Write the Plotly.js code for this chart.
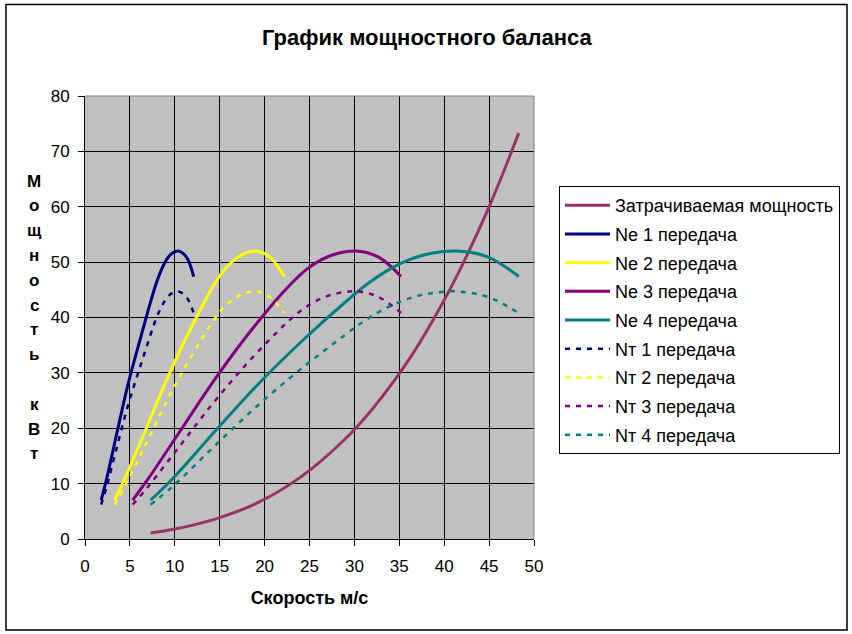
<!DOCTYPE html>
<html>
<head>
<meta charset="utf-8">
<script src="https://cdn.plot.ly/plotly-3.0.1.min.js"></script>
<style>
  html, body { margin: 0; padding: 0; background: #fff; }
  #chart { width: 852px; height: 634px; }
</style>
</head>
<body>
<div id="chart"></div>
<script>
// скорость автомобиля на каждой передаче, м/с
const SPEED_G1 = [1.8, 2.4, 3.6, 4.8, 6.1, 7.3, 7.9, 8.5, 9.1, 9.7, 10.4, 11.3, 12.1];
const SPEED_G2 = [3.3, 4.4, 6.7, 8.9, 11.1, 13.3, 14.4, 15.5, 16.7, 17.8, 19.1, 20.6, 22.2];
const SPEED_G3 = [5.3, 7.0, 10.6, 14.1, 17.6, 21.1, 22.9, 24.6, 26.4, 28.2, 30.3, 32.7, 35.2];
const SPEED_G4 = [7.3, 9.7, 14.5, 19.3, 24.2, 29.0, 31.4, 33.8, 36.2, 38.6, 41.5, 44.9, 48.3];

// мощность двигателя Ne и на колёсах Nт, кВт
const POWER_NE = [7.0, 10.8, 19.5, 28.0, 35.8, 42.8, 46.0, 48.6, 50.5, 51.6, 52.0, 50.9, 47.4];
const POWER_NT = [6.2, 9.4, 16.9, 24.2, 30.9, 36.9, 39.7, 41.9, 43.5, 44.4, 44.7, 43.7, 40.8];

// затрачиваемая мощность (по скорости 4-й передачи)
const POWER_RES = [1.1, 1.7, 3.6, 6.6, 11.4, 18.1, 22.3, 27.2, 32.7, 39.1, 47.8, 59.6, 73.3];

const GEAR_SPEEDS = [SPEED_G1, SPEED_G2, SPEED_G3, SPEED_G4];
const GEAR_COLORS = ['#000080', '#ffff00', '#800080', '#008080'];
const Y_TITLE = 'Мощность кВт';

const FONT = 'Liberation Sans, Arial, sans-serif';

const traces = [];
traces.push({
  type: 'scatter', mode: 'lines', name: 'Затрачиваемая мощность',
  x: SPEED_G4, y: POWER_RES, legendgroup: 'r',
  line: { color: '#993366', width: 3, shape: 'spline', smoothing: 1 }
});
GEAR_SPEEDS.forEach((sp, i) => {
  traces.push({
    type: 'scatter', mode: 'lines', name: 'Ne ' + (i + 1) + ' передача',
    x: sp, y: POWER_NE, legendgroup: 'ne' + i,
    line: { color: GEAR_COLORS[i], width: 3, shape: 'spline', smoothing: 1 }
  });
});
GEAR_SPEEDS.forEach((sp, i) => {
  traces.push({
    type: 'scatter', mode: 'lines', name: 'Nт ' + (i + 1) + ' передача',
    x: sp, y: POWER_NT, legendgroup: 'nt' + i,
    line: { color: GEAR_COLORS[i], width: 2.5, dash: '5px,6px', shape: 'spline', smoothing: 1 }
  });
});

// вертикальная подпись оси Y — по буквам
const annotations = [];
Y_TITLE.split('').forEach((ch, i) => {
  if (ch === ' ') return;
  const py = 181 + 24.8 * i;
  annotations.push({
    xref: 'paper', yref: 'paper', x: (34 - 85) / 449, y: (539 - py) / 443,
    xanchor: 'center', yanchor: 'middle', showarrow: false,
    text: '<b>' + ch + '</b>', font: { family: FONT, size: 17, color: '#000' }
  });
});

const axisCommon = {
  showgrid: true, gridcolor: '#000', gridwidth: 1,
  showline: true, linecolor: '#000', linewidth: 1,
  ticks: 'outside', ticklen: 6, tickcolor: '#000', tickwidth: 1,
  tickfont: { family: FONT, size: 17, color: '#000' },
  zeroline: false, fixedrange: true
};

const layout = {
  width: 852, height: 634,
  margin: { l: 85, r: 318, t: 96, b: 95 },
  paper_bgcolor: '#fff', plot_bgcolor: '#c0c0c0',
  font: { family: FONT, color: '#000' },
  title: {
    text: '<b>График мощностного баланса</b>',
    font: { family: FONT, size: 22, color: '#000' },
    x: 0.501, xref: 'container', xanchor: 'center',
    y: 1 - 37 / 634, yref: 'container', yanchor: 'middle'
  },
  xaxis: Object.assign({}, axisCommon, {
    range: [0, 50], dtick: 5, tick0: 0, ticklabelstandoff: 6,
    title: { text: '<b>Скорость м/с</b>', font: { family: FONT, size: 18, color: '#000' }, standoff: 15 }
  }),
  yaxis: Object.assign({}, axisCommon, {
    range: [0, 80], dtick: 10, tick0: 0, ticklabelstandoff: 5
  }),
  showlegend: true,
  legend: {
    x: (559 - 85) / 449, y: (539 - 186) / 443, xanchor: 'left', yanchor: 'top',
    bgcolor: '#fff', bordercolor: '#000', borderwidth: 1,
    font: { family: FONT, size: 18, color: '#000' },
    traceorder: 'grouped', tracegroupgap: 2.3, itemwidth: 45
  },
  annotations: annotations,
  shapes: [
    {
      // серая рамка области построения сверху и справа
      type: 'path', xref: 'paper', yref: 'paper', layer: 'above',
      path: 'M0,1 L1,1 L1,0', line: { color: '#808080', width: 1 }
    },
    {
      type: 'rect', xref: 'paper', yref: 'paper', layer: 'above',
      x0: (6 - 85) / 449, x1: (847 - 85) / 449,
      y0: (539 - 630) / 443, y1: (539 - 4.5) / 443,
      line: { color: '#000', width: 1.5 }, fillcolor: 'rgba(0,0,0,0)'
    }
  ]
};

Plotly.newPlot('chart', traces, layout, { staticPlot: true, displayModeBar: false });
</script>
</body>
</html>
